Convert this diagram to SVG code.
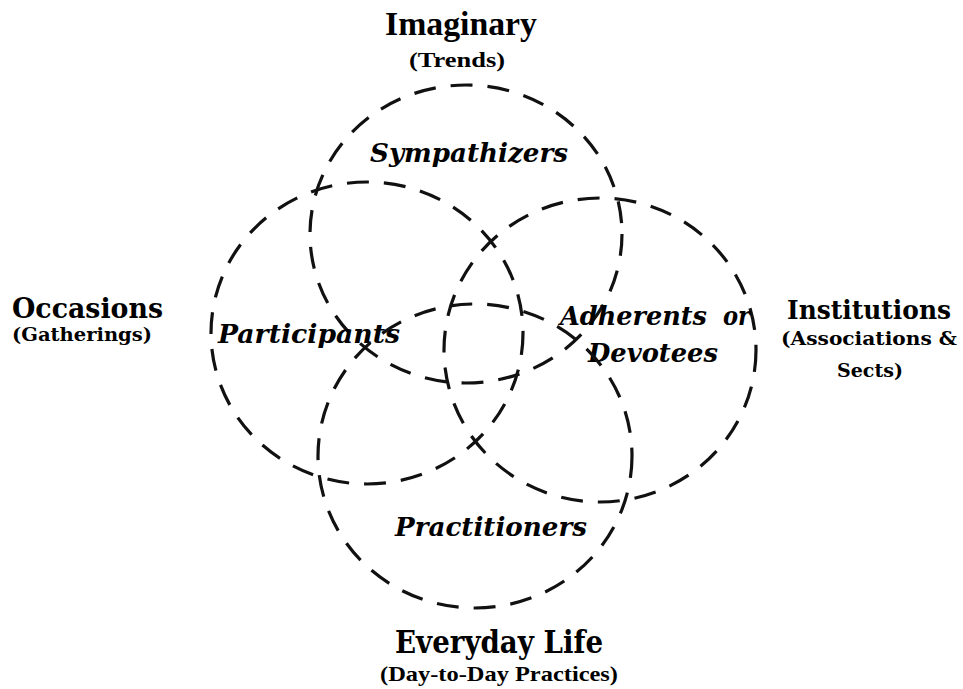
<svg xmlns="http://www.w3.org/2000/svg" width="963" height="689" viewBox="0 0 963 689">
<style>
.ring{fill:none;stroke:#111;stroke-width:3.2;stroke-dasharray:22 15;}
.in{font-family:"DejaVu Serif","Liberation Serif",serif;font-weight:bold;font-style:italic;font-size:26px;fill:#000;}
.hd{font-family:"DejaVu Serif","Liberation Serif",serif;font-weight:bold;fill:#000;}
.cd{font-family:"Liberation Serif","DejaVu Serif",serif;font-weight:bold;fill:#000;}
</style>
<rect width="963" height="689" fill="#fff"/>
<g id="imaginary">
<ellipse class="ring" cx="466" cy="234" rx="156" ry="149"/>
<text class="cd" x="385" y="35" font-size="33" textLength="152" lengthAdjust="spacingAndGlyphs">Imaginary</text>
<text class="cd" x="409" y="67" font-size="22" textLength="96" lengthAdjust="spacingAndGlyphs">(Trends)</text>
<text class="in" x="370" y="162" textLength="198" lengthAdjust="spacingAndGlyphs">Sympathizers</text>
</g>
<g id="occasions">
<ellipse class="ring" cx="367" cy="333" rx="156" ry="151"/>
<text class="hd" x="12" y="318" font-size="27" textLength="151" lengthAdjust="spacingAndGlyphs">Occasions</text>
<text class="hd" x="12" y="341" font-size="18" textLength="140" lengthAdjust="spacingAndGlyphs">(Gatherings)</text>
<text class="in" x="218" y="343" textLength="182" lengthAdjust="spacingAndGlyphs">Participants</text>
</g>
<g id="institutions">
<ellipse class="ring" cx="600" cy="350" rx="156" ry="152"/>
<text class="hd" x="787" y="319" font-size="26" textLength="164" lengthAdjust="spacingAndGlyphs">Institutions</text>
<text class="hd" x="781" y="345" font-size="18" textLength="176" lengthAdjust="spacingAndGlyphs">(Associations &amp;</text>
<text class="hd" x="837" y="377" font-size="18" textLength="66" lengthAdjust="spacingAndGlyphs">Sects)</text>
<text class="in" x="560" y="325" textLength="147" lengthAdjust="spacingAndGlyphs">Adherents</text>
<text class="in" x="723" y="325" textLength="27" lengthAdjust="spacingAndGlyphs">or</text>
<text class="in" x="588" y="362" textLength="130" lengthAdjust="spacingAndGlyphs">Devotees</text>
</g>
<g id="everyday-life">
<ellipse class="ring" cx="475" cy="456" rx="157" ry="152"/>
<text class="hd" x="395" y="653" font-size="32" textLength="208" lengthAdjust="spacingAndGlyphs">Everyday Life</text>
<text class="cd" x="380" y="681" font-size="21" textLength="238" lengthAdjust="spacingAndGlyphs">(Day-to-Day Practices)</text>
<text class="in" x="395" y="536" textLength="192" lengthAdjust="spacingAndGlyphs">Practitioners</text>
</g>
</svg>
